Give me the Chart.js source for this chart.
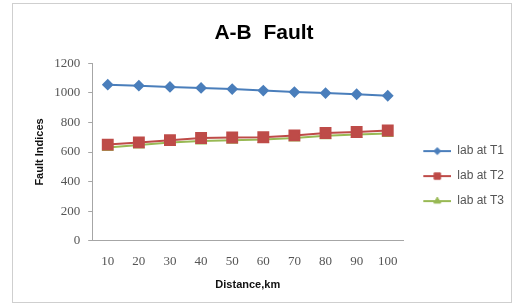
<!DOCTYPE html>
<html>
<head>
<meta charset="utf-8">
<script src="https://cdn.jsdelivr.net/npm/chart.js@4"></script>
<style>
  html, body { margin: 0; padding: 0; background: #fff; }
  #wrap { position: absolute; left: 12px; top: 3px; width: 500px; height: 300px; border: 1px solid #cfcfcf; box-sizing: border-box; }
  #frame { position: absolute; left: 0; top: 0; width: 514px; height: 305px; }
</style>
</head>
<body>
<div id="wrap"></div>
<div id="frame"><canvas id="c" width="514" height="305"></canvas></div>
<script>
// distances along the line, km
const distances = [10, 20, 30, 40, 50, 60, 70, 80, 90, 100]
const labT1 = [1055, 1048, 1040, 1033, 1025, 1015, 1005, 998, 990, 980]
const labT2 = [650, 665, 680, 695, 698, 700, 712, 728, 735, 745]
const labT3 = [630, 648, 665, 675, 680, 685, 695, 710, 718, 725]
const yTicks = [0, 200, 400, 600, 800, 1000, 1200]

function series(label, data, color, style, radius, legendRadius) {
  return {
    label: label,
    data: data,
    borderColor: color,
    backgroundColor: color,
    borderWidth: 2,
    pointStyle: style,
    pointRadius: radius,
    pointBorderColor: color,
    pointBackgroundColor: color,
    tension: 0,
    legendStyle: [color, style, legendRadius]
  }
}

// little "line with marker" picture for the legend, like excel draws it
function legendMark(color, style, r) {
  let cv = document.createElement('canvas')
  cv.width = 35
  cv.height = 12
  let ctx = cv.getContext('2d')
  ctx.strokeStyle = color
  ctx.lineWidth = 2
  ctx.beginPath()
  ctx.moveTo(7, 6)
  ctx.lineTo(35, 6)
  ctx.stroke()
  ctx.fillStyle = color
  ctx.lineWidth = 1
  Chart.helpers.drawPoint(ctx, { pointStyle: style, radius: r, rotation: 0, borderWidth: 1 }, 21, 6)
  return cv
}

const datasets = [
  series('lab at T1', labT1, '#4a7ebb', 'rectRot', 4.5, 3.5),
  series('lab at T2', labT2, '#be4b48', 'rect', 7, 4.5),
  series('lab at T3', labT3, '#98b954', 'triangle', 5, 4)
]

new Chart(document.getElementById('c'), {
  type: 'line',
  data: { labels: distances, datasets: datasets },
  options: {
    responsive: false,
    animation: false,
    layout: { padding: { left: 14, right: 0, top: 12, bottom: 6 } },
    plugins: {
      title: {
        display: true,
        text: 'A-B  Fault',
        font: { family: 'Liberation Sans', size: 21, weight: 'bold' },
        color: '#000',
        padding: { top: 9, bottom: 17 }
      },
      legend: {
        position: 'right',
        title: { display: true, text: ' ', font: { size: 1 }, padding: { top: 40, bottom: 0 } },
        labels: {
          usePointStyle: true,
          pointStyleWidth: 35,
          font: { family: 'Liberation Sans', size: 12 },
          color: '#555',
          padding: 13,
          generateLabels: chart => chart.data.datasets.map((ds, i) => ({
            text: ds.label,
            fillStyle: ds.borderColor,
            strokeStyle: ds.borderColor,
            lineWidth: 0,
            pointStyle: legendMark(...ds.legendStyle),
            hidden: false,
            datasetIndex: i,
            fontColor: '#555'
          }))
        }
      },
      tooltip: { enabled: false }
    },
    scales: {
      x: {
        type: 'category',
        offset: true,
        grid: { display: false, drawTicks: false },
        border: { color: '#a6a6a6' },
        ticks: { font: { family: 'Liberation Serif', size: 13 }, color: '#555', padding: 13 },
        title: {
          display: true,
          text: 'Distance,km',
          font: { family: 'Liberation Sans', size: 11, weight: 'bold' },
          color: '#111',
          padding: { top: -4, bottom: 7.4 }
        }
      },
      y: {
        min: 0,
        max: 1200,
        afterBuildTicks: axis => { axis.ticks = yTicks.map(v => ({ value: v })) },
        grid: { display: true, drawOnChartArea: false, tickLength: 4, tickColor: '#a6a6a6' },
        border: { color: '#a6a6a6' },
        ticks: { font: { family: 'Liberation Serif', size: 13 }, color: '#555', padding: 8, callback: v => String(v) },
        title: {
          display: true,
          text: 'Fault Indices',
          font: { family: 'Liberation Sans', size: 11, weight: 'bold' },
          color: '#111',
          padding: { top: 19, bottom: 0 }
        }
      }
    }
  }
})
</script>
</body>
</html>
